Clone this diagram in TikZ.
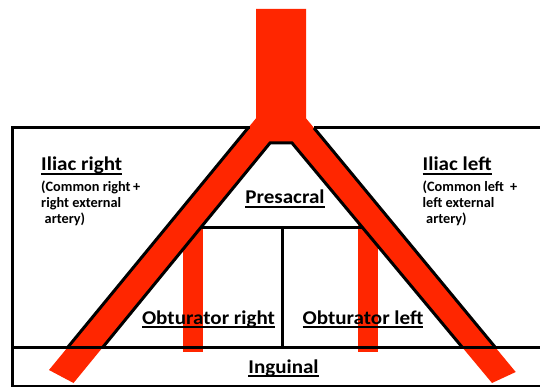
\documentclass[tikz,border=0pt]{standalone}
\usepackage{fontspec}
\setmainfont{Carlito}
\newfontfamily\ttlfont[FakeStretch=1.08]{Carlito}
\usetikzlibrary{calc}
\definecolor{art}{RGB}{255,38,0}
\newcommand\myul[1]{\setbox0\hbox{#1}\rlap{\rule[-0.2em]{\wd0}{0.09em}}\box0}
\tikzset{
  ttl/.style={font=\ttlfont\fontsize{19.5}{24}\selectfont\bfseries, inner sep=0pt, anchor=base west},
  subt/.style={font=\fontsize{14.3}{17}\selectfont\bfseries, inner sep=0pt, anchor=base west},
  lbl/.style={font=\ttlfont\fontsize{19.5}{24}\selectfont\bfseries, inner sep=0pt, anchor=base},
  blk/.style={draw=black, line width=3pt},
}
\begin{document}
\begin{tikzpicture}[x=1pt,y=-1pt]
\useasboundingbox (0,0) rectangle (540,387);
\fill[white] (0,0) rectangle (540,387);
% key points
\coordinate (LOt) at (248,128); \coordinate (LOb) at (68,347);
\coordinate (LIt) at (270,143); \coordinate (LIb) at (103,347);
\coordinate (ROt) at (314,128); \coordinate (ROb) at (495,347);
\coordinate (RIt) at (292,143); \coordinate (RIb) at (462,347);
\coordinate (HL) at ($(LIt)!0.4118!(LIb)$);
\coordinate (HR) at ($(RIt)!0.4118!(RIb)$);
% obturator branches
\fill[art] (183,215) rectangle (203,352);
\fill[art] (358,213) rectangle (378,352);
% aorta and iliac arteries
\fill[art] (256,9) -- (306,9) -- (306,118.3) -- (515.7,372) -- (492,383)
  -- (RIt) -- (LIt) -- (73.5,383) -- (49,370) -- (256,118.3) -- cycle;
% frame
\draw[blk, line cap=rect] (LOt) -- (12,128) -- (12,386) -- (541,386);
\draw[blk] (ROt) -- (541,128);
\draw[blk] (12,347) -- (541,347);
% artery borders
\draw[blk] (LOt) -- (LOb);
\draw[blk] (ROt) -- (ROb);
\draw[blk, line join=miter] (LIb) -- (LIt) -- (RIt) -- (RIb);
\draw[blk] (HL) -- (HR);
\draw[blk] (282,227) -- (282,347);
% texts
\node[ttl] (ir) at (41,171) {\myul{Iliac right}};
\node[subt] (ir1) at (41,191.5) {\makebox[92pt][l]{(Common right}+};
\node[subt] (ir2) at (41,207.5) {right external};
\node[subt] (ir3) at (44.5,223.5) {artery)};
\node[ttl] (il) at (422.5,171) {\myul{Iliac left}};
\node[subt] (il1) at (422.5,191.5) {\makebox[87.5pt][l]{(Common left}+};
\node[subt] (il2) at (422.5,207.5) {left external};
\node[subt] (il3) at (426,223.5) {artery)};
\node[lbl] (ps) at (285,204) {\myul{Presacral}};
\node[lbl] (obr) at (208.5,324) {\myul{Obturator right}};
\node[lbl] (obl) at (363,324) {\myul{Obturator left}};
\node[lbl] (ing) at (283.5,373) {\myul{Inguinal}};
\end{tikzpicture}
\end{document}
